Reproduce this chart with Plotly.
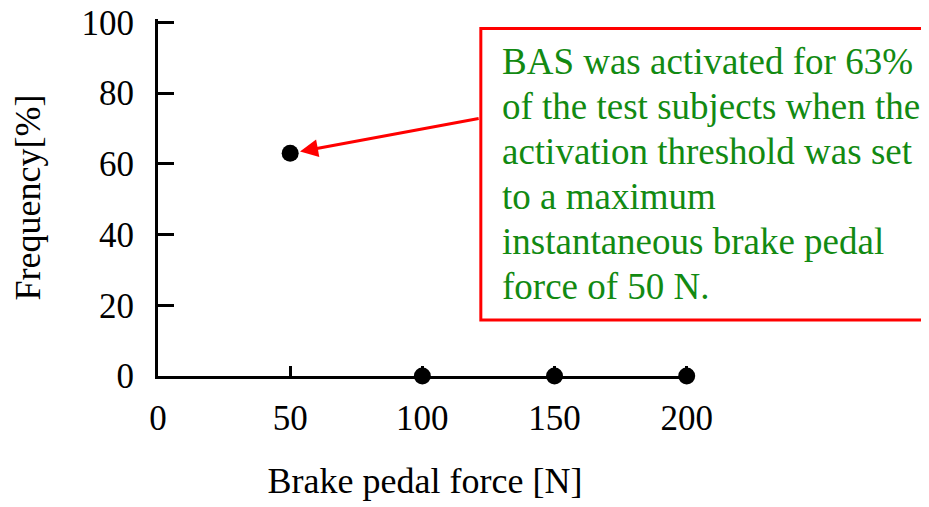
import plotly.graph_objects as go

force_n = [50, 100, 150, 200]
frequency_pct = [63, 0, 0, 0]
x_ticks = [0, 50, 100, 150, 200]
y_ticks = [0, 20, 40, 60, 80, 100]
note_lines = [
    "BAS was activated for 63%",
    "of the test subjects when the",
    "activation threshold was set",
    "to a maximum",
    "instantaneous brake pedal",
    "force of 50 N.",
]

FONT = "Liberation Serif, Times New Roman, serif"
OFF = 8  # page body margin offset
X_MAX, Y_MAX = 202, 101  # small headroom so the end ticks at 200 / 100 are drawn
W, H = 929 - OFF, 507 - OFF
L = 158 - OFF
B = 376 - OFF
R = L + (687 - 158) * X_MAX / 200
T = B - (376 - 23) * Y_MAX / 100


def px_x(p):
    return (p - OFF - L) / (R - L)


def px_y(p):
    return (B - (p - OFF)) / (B - T)


fig = go.Figure()
fig.add_trace(go.Scatter(
    x=force_n, y=frequency_pct, mode="markers",
    marker=dict(color="black", size=17),
    cliponaxis=False, showlegend=False,
))

fig.update_layout(
    width=W, height=H,
    margin=dict(l=L, r=W - R, t=T, b=H - B, autoexpand=False),
    paper_bgcolor="white", plot_bgcolor="rgba(0,0,0,0)",
    font=dict(family=FONT, size=35, color="black"),
    xaxis=dict(
        range=[0, X_MAX], tickmode="array", tickvals=x_ticks, ticks="inside",
        ticklen=10, tickwidth=3, tickcolor="black",
        showline=True, linecolor="black", linewidth=3,
        showgrid=False, zeroline=False, automargin=False, ticklabelstandoff=9,
        ticklabeloverflow="allow",
        title=dict(text="Brake pedal force [N]", standoff=31, font=dict(size=36)),
    ),
    yaxis=dict(
        range=[0, Y_MAX], tickmode="array", tickvals=y_ticks, ticks="inside",
        ticklen=16, tickwidth=3, tickcolor="black",
        showline=True, linecolor="black", linewidth=3,
        showgrid=False, zeroline=False, automargin=False, ticklabelstandoff=14,
        ticklabeloverflow="allow",
        title=dict(text="Frequency[%]", standoff=32, font=dict(size=36)),
    ),
)

# red box
fig.add_shape(type="rect", xref="paper", yref="paper",
              x0=px_x(481), x1=px_x(960), y0=px_y(320), y1=px_y(29),
              line=dict(color="red", width=3), fillcolor="rgba(0,0,0,0)", layer="above")

# text, one line at a time (45 px apart)
for i, line in enumerate(note_lines):
    baseline = 75 + 45 * i
    fig.add_annotation(
        xref="paper", yref="paper", x=px_x(500), y=px_y(baseline + 9),
        xanchor="left", yanchor="bottom", align="left", showarrow=False,
        text=line, font=dict(family=FONT, size=37, color="#128a12"),
    )

# arrow
fig.add_annotation(
    x=force_n[0], y=frequency_pct[0], xref="x", yref="y",
    ax=190, ay=-35, text="", showarrow=True,
    arrowhead=2, arrowsize=1.2, arrowwidth=3, arrowcolor="red", standoff=10,
)

fig.write_html("out.html")
